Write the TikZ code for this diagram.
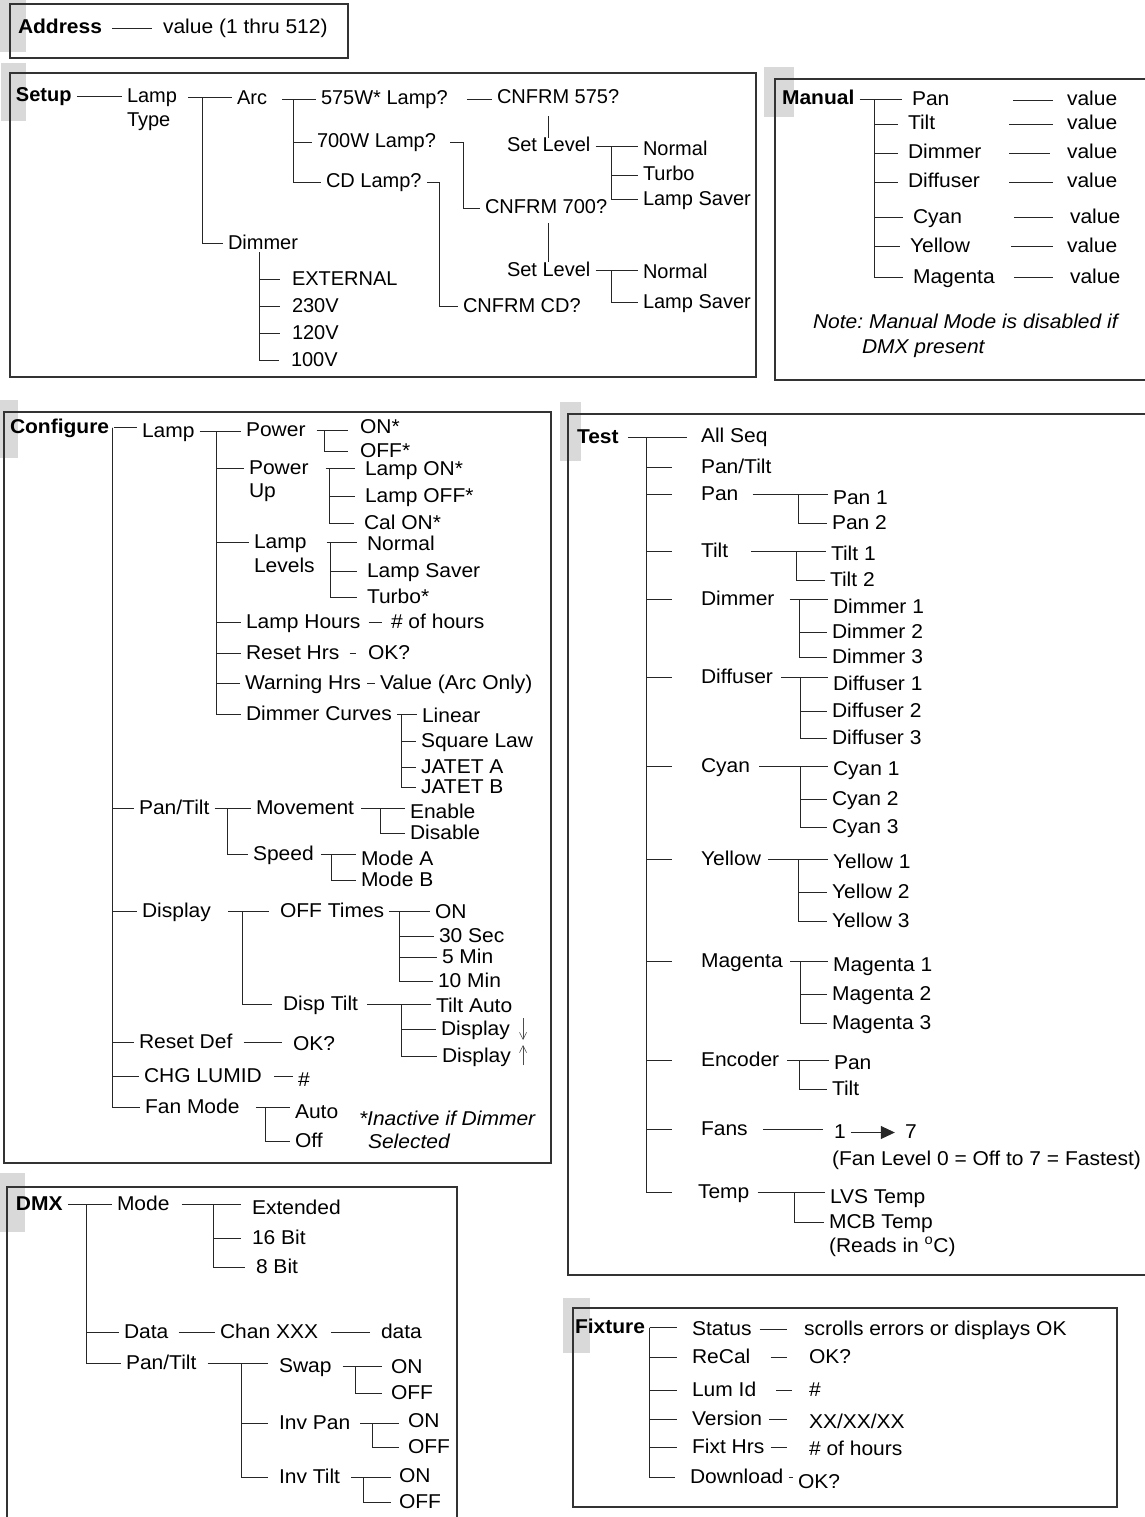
\documentclass[tikz,border=0pt]{standalone}
\usepackage{fontspec}
\setmainfont{Liberation Sans}[FakeStretch=1.05]
\newfontfamily\narrowfont{Liberation Sans}
\usetikzlibrary{arrows.meta}
\newcommand{\menufont}{\fontsize{20}{24}\selectfont\frenchspacing}
\tikzset{
  item/.style={anchor=text, inner xsep=5pt, inner ysep=3pt, text height=11pt, text depth=0pt, font=\menufont},
  head/.style={item, font=\menufont\bfseries},
  note/.style={item, font=\menufont\itshape},
  sitem/.style={item, font=\menufont\narrowfont},
  shead/.style={item, font=\menufont\narrowfont\bfseries},
  frame/.style={draw=black!80, line width=1.2pt},
  tab/.style={fill=black!15},
  hlink/.style={to path={-- (\tikztostart -| \tikztotarget)}},
  vlink/.style={to path={-- (\tikztostart |- \tikztotarget)}},
  spine/.style={to path={|- (\tikztotarget)}},
  jog/.style={to path={-- ([xshift=#1]\tikztostart) |- (\tikztotarget)}},
  thinarrow/.style={-{Straight Barb[length=7pt,width=7pt]}, line width=0.6pt, black!70},
}

\begin{document}
\begin{tikzpicture}[x=1pt, y=-1pt, every edge/.style={draw, black!85, line width=0.8pt}]
  \useasboundingbox (0,0) rectangle (1144,1517);

  % boxes
  \fill[tab] (0,0) rectangle (26,52);
  \fill[tab] (1,63) rectangle (26,121);
  \fill[tab] (764,67) rectangle (794,117);
  \fill[tab] (0,400) rectangle (18,458);
  \fill[tab] (560,402) rectangle (581,461);
  \fill[tab] (0,1173) rectangle (25,1232);
  \fill[tab] (563,1298) rectangle (590,1353);
  \draw[frame] (10,4) rectangle (348,58);
  \draw[frame] (10,73) rectangle (756,377);
  \draw[frame] (775,79) rectangle (1150,380);
  \draw[frame] (4,412) rectangle (551,1163);
  \draw[frame] (568,414) rectangle (1150,1275);
  \draw[frame] (7,1187) rectangle (457,1530);
  \draw[frame] (573,1308) rectangle (1117,1507);

  % Address
  \node[head] (address) at (18,34) {Address};
  \node[item] (addrval) at (163,34) {value (1 thru 512)};
  \path (address.east) edge[hlink, shorten <=5pt, shorten >=6pt] (addrval.west);

  % Setup
  \node[shead] (setup) at (16,102) {Setup};
  \node[sitem] (lamptype) at (127,103) {Lamp};
  \node[sitem] (lamptype2) at (127,127) {Type};
  \node[sitem] (arc) at (237,105) {Arc};
  \node[sitem] (dimmer) at (228,249) {Dimmer};
  \node[sitem] (w575) at (321,105) {575W* Lamp?};
  \node[sitem] (w700) at (317,148) {700W Lamp?};
  \node[sitem] (cdlamp) at (326,188) {CD Lamp?};
  \node[sitem] (cnf575) at (497,104) {CNFRM 575?};
  \node[sitem] (lvlA) at (507,152) {Set Level};
  \node[sitem] (nrmA) at (643,156) {Normal};
  \node[sitem] (trbA) at (643,181) {Turbo};
  \node[sitem] (svrA) at (643,205) {Lamp Saver};
  \node[sitem] (cnf700) at (485,214) {CNFRM 700?};
  \node[sitem] (lvlB) at (507,276) {Set Level};
  \node[sitem] (nrmB) at (643,278) {Normal};
  \node[sitem] (svrB) at (643,308) {Lamp Saver};
  \node[sitem] (cnfcd) at (463,312) {CNFRM CD?};
  \node[sitem] (ext) at (292,285) {EXTERNAL};
  \node[sitem] (v230) at (292,312) {230V};
  \node[sitem] (v120) at (292,339) {120V};
  \node[sitem] (v100) at (291,366) {100V};

  \path
  (setup.east) edge[hlink] (lamptype.west)
  (lamptype.east) edge[hlink, shorten <=6pt] (arc.west)
  ([xshift=20pt]lamptype.east) edge[spine] (dimmer.west)
  (arc.east) edge[hlink, shorten <=10pt] (w575.west)
  ([xshift=21pt]arc.east) edge[spine] (w700.west)
  ([xshift=21pt]arc.east) edge[spine] (cdlamp.west)
  (w575.east) edge[hlink, shorten <=14pt] (cnf575.west)
  (lvlA.north) edge[vlink, shorten >=9pt] (cnf575.south)
  (lvlA.east) edge[hlink] (nrmA.west)
  ([xshift=16pt]lvlA.east) edge[spine] (trbA.west)
  ([xshift=16pt]lvlA.east) edge[spine] (svrA.west)
  (w700.east) edge[jog=22pt, shorten <=9pt] (cnf700.west)
  (lvlB.north) edge[vlink, shorten >=6pt] (cnf700.south)
  (lvlB.east) edge[hlink] (nrmB.west)
  ([xshift=16pt]lvlB.east) edge[spine] (svrB.west)
  (cdlamp.east) edge[jog=13pt] (cnfcd.west)
  ([xshift=-4pt]dimmer.south) edge[spine, shorten >=7pt] (ext.west)
  ([xshift=-4pt]dimmer.south) edge[spine, shorten >=7pt] (v230.west)
  ([xshift=-4pt]dimmer.south) edge[spine, shorten >=7pt] (v120.west)
  ([xshift=-4pt]dimmer.south) edge[spine, shorten >=7pt] (v100.west);

  % Manual
  \node[head] (manual) at (782,105) {Manual};
  \node[item, text width=96pt] (mpan) at (912,106) {Pan};
  \node[item, text width=96pt] (mtilt) at (908,130) {Tilt};
  \node[item, text width=96pt] (mdim) at (908,159) {Dimmer};
  \node[item, text width=96pt] (mdif) at (908,188) {Diffuser};
  \node[item, text width=96pt] (mcyan) at (913,223) {Cyan};
  \node[item, text width=96pt] (myel) at (910,252) {Yellow};
  \node[item, text width=96pt] (mmag) at (913,283) {Magenta};
  \node[item] (vpan) at (1067,106) {value};
  \node[item] (vtilt) at (1067,130) {value};
  \node[item] (vdim) at (1067,159) {value};
  \node[item] (vdif) at (1067,188) {value};
  \node[item] (vcyan) at (1070,223) {value};
  \node[item] (vyel) at (1067,252) {value};
  \node[item] (vmag) at (1070,283) {value};
  \node[note] (mnote) at (813,328) {Note: Manual Mode is disabled if};
  \node[note] (mnote2) at (862,353) {DMX present};

  \path
  (manual.east) edge[hlink, shorten >=5pt] (mpan.west)
  ([xshift=15pt]manual.east) edge[spine, shorten >=5pt] (mtilt.west)
  ([xshift=15pt]manual.east) edge[spine, shorten >=5pt] (mdim.west)
  ([xshift=15pt]manual.east) edge[spine, shorten >=5pt] (mdif.west)
  ([xshift=15pt]manual.east) edge[spine, shorten >=5pt] (mcyan.west)
  ([xshift=15pt]manual.east) edge[spine, shorten >=5pt] (myel.west)
  ([xshift=15pt]manual.east) edge[spine, shorten >=5pt] (mmag.west)
  (mpan.east) edge[hlink, shorten >=9pt] (vpan.west)
  (mtilt.east) edge[hlink, shorten >=9pt] (vtilt.west)
  (mdim.east) edge[hlink, shorten >=12pt] (vdim.west)
  (mdif.east) edge[hlink, shorten >=9pt] (vdif.west)
  (mcyan.east) edge[hlink, shorten >=12pt] (vcyan.west)
  (myel.east) edge[hlink, shorten >=9pt] (vyel.west)
  (mmag.east) edge[hlink, shorten >=12pt] (vmag.west);

  % Configure
  \node[head] (configure) at (10,433) {Configure};
  \node[item] (clamp) at (142,437) {Lamp};
  \node[item] (cpower) at (246,436) {Power};
  \node[item] (con) at (360,433) {ON*};
  \node[item] (coff) at (360,457) {OFF*};
  \node[item] (cpwrup) at (249,474) {Power};
  \node[item] (cpwrup2) at (249,497) {Up};
  \node[item] (clampon) at (365,475) {Lamp ON*};
  \node[item] (clampoff) at (365,502) {Lamp OFF*};
  \node[item] (calon) at (364,529) {Cal ON*};
  \node[item] (clevels) at (254,548) {Lamp};
  \node[item] (clevels2) at (254,572) {Levels};
  \node[item] (cnormal) at (367,550) {Normal};
  \node[item] (csaver) at (367,577) {Lamp Saver};
  \node[item] (cturbo) at (367,603) {Turbo*};
  \node[item] (chours) at (246,628) {Lamp Hours};
  \node[item] (choursv) at (391,628) {\# of hours};
  \node[item] (creshrs) at (246,659) {Reset Hrs};
  \node[item] (creshrsv) at (368,659) {OK?};
  \node[item] (cwarn) at (245,689) {Warning Hrs};
  \node[item] (cwarnv) at (380,689) {Value (Arc Only)};
  \node[item] (ccurves) at (246,720) {Dimmer Curves};
  \node[item] (clinear) at (422,722) {Linear};
  \node[item] (csquare) at (421,747) {Square Law};
  \node[item] (cjatA) at (421,773) {JATET A};
  \node[item] (cjatB) at (421,793) {JATET B};
  \node[item] (cpantilt) at (139,814) {Pan/Tilt};
  \node[item] (cmove) at (256,814) {Movement};
  \node[item] (cenable) at (410,818) {Enable};
  \node[item] (cdisable) at (410,839) {Disable};
  \node[item] (cspeed) at (253,860) {Speed};
  \node[item] (cmodeA) at (361,865) {Mode A};
  \node[item] (cmodeB) at (361,886) {Mode B};
  \node[item] (cdisplay) at (142,917) {Display};
  \node[item] (cofftimes) at (280,917) {OFF Times};
  \node[item] (conT) at (435,918) {ON};
  \node[item] (c30s) at (439,942) {30 Sec};
  \node[item] (c5m) at (442,963) {5 Min};
  \node[item] (c10m) at (438,987) {10 Min};
  \node[item] (cdisptilt) at (283,1010) {Disp Tilt};
  \node[item] (ctiltauto) at (436,1012) {Tilt Auto};
  \node[item] (cdispdn) at (441,1035) {Display};
  \node[item] (cdispup) at (442,1062) {Display};
  \node[item] (cresetdef) at (139,1048) {Reset Def};
  \node[item] (cresetok) at (293,1050) {OK?};
  \node[item] (cchglumid) at (144,1082) {CHG LUMID};
  \node[item] (clumidv) at (298,1086) {\#};
  \node[item] (cfanmode) at (145,1113) {Fan Mode};
  \node[item] (cauto) at (295,1118) {Auto};
  \node[item] (cfanoff) at (295,1147) {Off};
  \node[note] (cnote) at (359,1125) {*Inactive if Dimmer};
  \node[note] (cnote2) at (368,1148) {Selected};

  \path
  (configure.east) edge[hlink] (clamp.west)
  ([xshift=-2pt]configure.east) edge[spine] (cpantilt.west)
  ([xshift=-2pt]configure.east) edge[spine] (cdisplay.west)
  ([xshift=-2pt]configure.east) edge[spine] (cresetdef.west)
  ([xshift=-2pt]configure.east) edge[spine] (cchglumid.west)
  ([xshift=-2pt]configure.east) edge[spine] (cfanmode.west)
  (clamp.east) edge[hlink] (cpower.west)
  ([xshift=17pt]clamp.east) edge[spine] (cpwrup.west)
  ([xshift=17pt]clamp.east) edge[spine] (clevels.west)
  ([xshift=17pt]clamp.east) edge[spine] (chours.west)
  ([xshift=17pt]clamp.east) edge[spine] (creshrs.west)
  ([xshift=17pt]clamp.east) edge[spine] (cwarn.west)
  ([xshift=17pt]clamp.east) edge[spine] (ccurves.west)
  (cpower.east) edge[hlink, shorten <=6pt, shorten >=7pt] (con.west)
  ([xshift=14pt]cpower.east) edge[spine, shorten >=7pt] (coff.west)
  (cpwrup.east) edge[hlink, shorten <=12pt, shorten >=5pt] (clampon.west)
  ([xshift=16pt]cpwrup.east) edge[spine, shorten >=5pt] (clampoff.west)
  ([xshift=16pt]cpwrup.east) edge[spine, shorten >=5pt] (calon.west)
  (clevels.east) edge[hlink, shorten <=15pt, shorten >=5pt] (cnormal.west)
  ([xshift=19pt]clevels.east) edge[spine, shorten >=5pt] (csaver.west)
  ([xshift=19pt]clevels.east) edge[spine, shorten >=5pt] (cturbo.west)
  (chours.east) edge[hlink, shorten <=3pt, shorten >=4pt] (choursv.west)
  (creshrs.east) edge[hlink, shorten <=5pt, shorten >=7pt] (creshrsv.west)
  (cwarn.east) edge[hlink, shorten <=1pt] (cwarnv.west)
  (ccurves.east) edge[hlink] (clinear.west)
  ([xshift=4pt]ccurves.east) edge[spine] (csquare.west)
  ([xshift=4pt]ccurves.east) edge[spine] (cjatA.west)
  ([xshift=4pt]ccurves.east) edge[spine] (cjatB.west)
  (cpantilt.east) edge[hlink] (cmove.west)
  ([xshift=13pt]cpantilt.east) edge[spine] (cspeed.west)
  (cmove.east) edge[hlink, shorten <=2pt] (cenable.west)
  ([xshift=21pt]cmove.east) edge[spine] (cdisable.west)
  (cspeed.east) edge[hlink, shorten <=2pt] (cmodeA.west)
  ([xshift=12pt]cspeed.east) edge[spine] (cmodeB.west)
  (cdisplay.east) edge[hlink, shorten <=12pt, shorten >=6pt] (cofftimes.west)
  ([xshift=26pt]cdisplay.east) edge[spine, shorten >=6pt] (cdisptilt.west)
  (cofftimes.east) edge[hlink] (conT.west)
  ([xshift=10pt]cofftimes.east) edge[spine] (c30s.west)
  ([xshift=10pt]cofftimes.east) edge[spine] (c5m.west)
  ([xshift=10pt]cofftimes.east) edge[spine] (c10m.west)
  (cdisptilt.east) edge[hlink, shorten <=4pt] (ctiltauto.west)
  ([xshift=38pt]cdisptilt.east) edge[spine] (cdispdn.west)
  ([xshift=38pt]cdisptilt.east) edge[spine] (cdispup.west)
  (cresetdef.east) edge[hlink, shorten <=6pt, shorten >=6pt] (cresetok.west)
  (cchglumid.east) edge[hlink, shorten <=7pt] (clumidv.west)
  (cfanmode.east) edge[hlink, shorten <=11pt] (cauto.west)
  ([xshift=21pt]cfanmode.east) edge[spine] (cfanoff.west);
  \draw[thinarrow] ([xshift=8pt,yshift=17pt]cdispdn.base east) -- ([xshift=8pt,yshift=-5pt]cdispdn.base east);
  \draw[thinarrow] ([xshift=7pt,yshift=-3pt]cdispup.base east) -- ([xshift=7pt,yshift=17pt]cdispup.base east);

  % Test
  \node[head] (test) at (577,443) {Test};
  \node[item] (tall) at (701,442) {All Seq};
  \node[item] (tpantilt) at (701,473) {Pan/Tilt};
  \node[item] (tpan) at (701,500) {Pan};
  \node[item] (ttilt) at (701,557) {Tilt};
  \node[item] (tdim) at (701,605) {Dimmer};
  \node[item] (tdif) at (701,683) {Diffuser};
  \node[item] (tcyan) at (701,772) {Cyan};
  \node[item] (tyel) at (701,865) {Yellow};
  \node[item] (tmag) at (701,967) {Magenta};
  \node[item] (tenc) at (701,1066) {Encoder};
  \node[item] (tfans) at (701,1135) {Fans};
  \node[item] (ttemp) at (698,1198) {Temp};
  \node[item] (tpan1) at (833,504) {Pan 1};
  \node[item] (tpan2) at (832,529) {Pan 2};
  \node[item] (ttilt1) at (831,560) {Tilt 1};
  \node[item] (ttilt2) at (830,586) {Tilt 2};
  \node[item] (tdim1) at (833,613) {Dimmer 1};
  \node[item] (tdim2) at (832,638) {Dimmer 2};
  \node[item] (tdim3) at (832,663) {Dimmer 3};
  \node[item] (tdif1) at (833,690) {Diffuser 1};
  \node[item] (tdif2) at (832,717) {Diffuser 2};
  \node[item] (tdif3) at (832,744) {Diffuser 3};
  \node[item] (tcyan1) at (833,775) {Cyan 1};
  \node[item] (tcyan2) at (832,805) {Cyan 2};
  \node[item] (tcyan3) at (832,833) {Cyan 3};
  \node[item] (tyel1) at (833,868) {Yellow 1};
  \node[item] (tyel2) at (832,898) {Yellow 2};
  \node[item] (tyel3) at (832,927) {Yellow 3};
  \node[item] (tmag1) at (833,971) {Magenta 1};
  \node[item] (tmag2) at (832,1000) {Magenta 2};
  \node[item] (tmag3) at (832,1029) {Magenta 3};
  \node[item] (tencP) at (834,1069) {Pan};
  \node[item] (tencT) at (832,1095) {Tilt};
  \node[item] (tone) at (834,1138) {1};
  \node[item] (tseven) at (905,1138) {7};
  \node[item] (tlevel) at (832,1165) {(Fan Level 0 = Off to 7 = Fastest)};
  \node[item] (tlvs) at (830,1203) {LVS Temp};
  \node[item] (tmcb) at (829,1228) {MCB Temp};
  \node[item] (treads) at (829,1252) {(Reads in \textsuperscript{o}C)};

  \path
  (test.east) edge[hlink, shorten <=4pt, shorten >=9pt] (tall.west)
  ([xshift=23pt]test.east) edge[spine, shorten >=24pt] (tpantilt.west)
  ([xshift=23pt]test.east) edge[spine, shorten >=24pt] (tpan.west)
  ([xshift=23pt]test.east) edge[spine, shorten >=24pt] (ttilt.west)
  ([xshift=23pt]test.east) edge[spine, shorten >=24pt] (tdim.west)
  ([xshift=23pt]test.east) edge[spine, shorten >=24pt] (tdif.west)
  ([xshift=23pt]test.east) edge[spine, shorten >=24pt] (tcyan.west)
  ([xshift=23pt]test.east) edge[spine, shorten >=24pt] (tyel.west)
  ([xshift=23pt]test.east) edge[spine, shorten >=24pt] (tmag.west)
  ([xshift=23pt]test.east) edge[spine, shorten >=24pt] (tenc.west)
  ([xshift=23pt]test.east) edge[spine, shorten >=24pt] (tfans.west)
  ([xshift=23pt]test.east) edge[spine, shorten >=21pt] (ttemp.west)
  (tpan.east) edge[hlink, shorten <=9pt] (tpan1.west)
  ([xshift=55pt]tpan.east) edge[spine] (tpan2.west)
  (ttilt.east) edge[hlink, shorten <=18pt] (ttilt1.west)
  ([xshift=63pt]ttilt.east) edge[spine] (ttilt2.west)
  (tdim.east) edge[hlink, shorten <=10pt] (tdim1.west)
  ([xshift=20pt]tdim.east) edge[spine] (tdim2.west)
  ([xshift=20pt]tdim.east) edge[spine] (tdim3.west)
  (tdif.east) edge[hlink, shorten <=3pt] (tdif1.west)
  ([xshift=22pt]tdif.east) edge[spine] (tdif2.west)
  ([xshift=22pt]tdif.east) edge[spine] (tdif3.west)
  (tcyan.east) edge[hlink, shorten <=4pt] (tcyan1.west)
  ([xshift=45pt]tcyan.east) edge[spine] (tcyan2.west)
  ([xshift=45pt]tcyan.east) edge[spine] (tcyan3.west)
  (tyel.east) edge[hlink, shorten <=2pt] (tyel1.west)
  ([xshift=32pt]tyel.east) edge[spine] (tyel2.west)
  ([xshift=32pt]tyel.east) edge[spine] (tyel3.west)
  (tmag.east) edge[hlink, shorten <=2pt] (tmag1.west)
  ([xshift=12pt]tmag.east) edge[spine] (tmag2.west)
  ([xshift=12pt]tmag.east) edge[spine] (tmag3.west)
  (tenc.east) edge[hlink, shorten <=3pt] (tencP.west)
  ([xshift=15pt]tenc.east) edge[spine] (tencT.west)
  (tfans.east) edge[hlink, shorten <=10pt, shorten >=6pt] (tone.west)
  (tone.east) edge[-{Triangle[length=14pt,width=13pt]}, shorten >=5pt] (tseven.west)
  (ttemp.east) edge[hlink, shorten <=3pt] (tlvs.west)
  ([xshift=40pt]ttemp.east) edge[spine] (tmcb.west);

  % DMX
  \node[head] (dmx) at (16,1210) {DMX};
  \node[item] (dmode) at (117,1210) {Mode};
  \node[item] (dext) at (252,1214) {Extended};
  \node[item] (d16) at (252,1244) {16 Bit};
  \node[item] (d8) at (256,1273) {8 Bit};
  \node[item] (ddata) at (124,1338) {Data};
  \node[item] (dchan) at (220,1338) {Chan XXX};
  \node[item] (ddatav) at (381,1338) {data};
  \node[item] (dpantilt) at (126,1369) {Pan/Tilt};
  \node[item] (dswap) at (279,1372) {Swap};
  \node[item] (dswapon) at (391,1373) {ON};
  \node[item] (dswapoff) at (391,1399) {OFF};
  \node[item] (dinvpan) at (279,1429) {Inv Pan};
  \node[item] (dpanon) at (408,1427) {ON};
  \node[item] (dpanoff) at (408,1453) {OFF};
  \node[item] (dinvtilt) at (279,1483) {Inv Tilt};
  \node[item] (dtilton) at (399,1482) {ON};
  \node[item] (dtiltoff) at (399,1508) {OFF};

  \path
  (dmx.east) edge[hlink] (dmode.west)
  ([xshift=19pt]dmx.east) edge[spine] (ddata.west)
  ([xshift=19pt]dmx.east) edge[spine] (dpantilt.west)
  (dmode.east) edge[hlink, shorten <=7pt, shorten >=6pt] (dext.west)
  ([xshift=39pt]dmode.east) edge[spine, shorten >=6pt] (d16.west)
  ([xshift=39pt]dmode.east) edge[spine, shorten >=6pt] (d8.west)
  (ddata.east) edge[hlink, shorten <=5pt] (dchan.west)
  (dchan.east) edge[hlink, shorten <=8pt, shorten >=6pt] (ddatav.west)
  (dpantilt.east) edge[hlink, shorten <=6pt, shorten >=6pt] (dswap.west)
  ([xshift=40pt]dpantilt.east) edge[spine, shorten >=6pt] (dinvpan.west)
  ([xshift=40pt]dpantilt.east) edge[spine, shorten >=6pt] (dinvtilt.west)
  (dswap.east) edge[hlink, shorten <=6pt, shorten >=4pt] (dswapon.west)
  ([xshift=19pt]dswap.east) edge[spine, shorten >=4pt] (dswapoff.west)
  (dinvpan.east) edge[hlink, shorten <=5pt, shorten >=4pt] (dpanon.west)
  ([xshift=17pt]dinvpan.east) edge[spine, shorten >=4pt] (dpanoff.west)
  (dinvtilt.east) edge[hlink, shorten <=6pt, shorten >=3pt] (dtilton.west)
  ([xshift=18pt]dinvtilt.east) edge[spine, shorten >=3pt] (dtiltoff.west);

  % Fixture
  \node[head] (fixture) at (575,1333) {Fixture};
  \node[item] (fstatus) at (692,1335) {Status};
  \node[item] (fstatusv) at (804,1335) {scrolls errors or displays OK};
  \node[item] (frecal) at (692,1363) {ReCal};
  \node[item] (frecalv) at (809,1363) {OK?};
  \node[item] (flumid) at (692,1396) {Lum Id};
  \node[item] (flumidv) at (809,1396) {\#};
  \node[item] (fversion) at (692,1425) {Version};
  \node[item] (fversionv) at (809,1428) {XX/XX/XX};
  \node[item] (fhrs) at (692,1453) {Fixt Hrs};
  \node[item] (fhrsv) at (809,1455) {\# of hours};
  \node[item] (fdownload) at (690,1483) {Download};
  \node[item] (fdownloadv) at (798,1488) {OK?};

  \path
  (fixture.east) edge[hlink, shorten >=10pt] (fstatus.west)
  ([xshift=-1pt]fixture.east) edge[spine, shorten >=10pt] (frecal.west)
  ([xshift=-1pt]fixture.east) edge[spine, shorten >=10pt] (flumid.west)
  ([xshift=-1pt]fixture.east) edge[spine, shorten >=10pt] (fversion.west)
  ([xshift=-1pt]fixture.east) edge[spine, shorten >=10pt] (fhrs.west)
  ([xshift=-1pt]fixture.east) edge[spine, shorten >=10pt] (fdownload.west)
  (fstatus.east) edge[hlink, shorten <=3pt, shorten >=12pt] (fstatusv.west)
  (frecal.east) edge[hlink, shorten <=15pt, shorten >=17pt] (frecalv.west)
  (flumid.east) edge[hlink, shorten <=15pt, shorten >=12pt] (flumidv.west)
  (fversion.east) edge[hlink, shorten <=2pt, shorten >=17pt] (fversionv.west)
  (fhrs.east) edge[hlink, shorten <=1pt, shorten >=17pt] (fhrsv.west)
  (fdownload.east) edge[hlink] (fdownloadv.west);
\end{tikzpicture}
\end{document}
